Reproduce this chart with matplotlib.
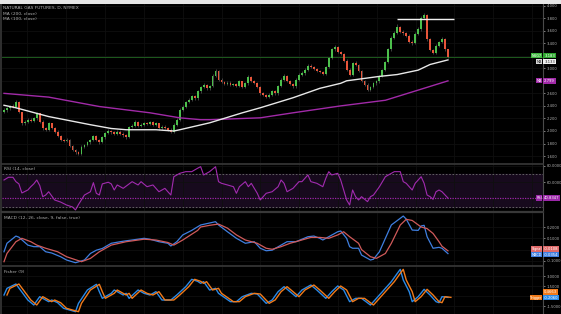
import numpy as np
import matplotlib
matplotlib.use('Agg')
import matplotlib.pyplot as plt
from matplotlib.lines import Line2D
from matplotlib.transforms import blended_transform_factory

W, H, DPI = 561, 314, 100

title_lines = ["NATURAL GAS FUTURES, D, NYMEX", "MA (200, close)", "MA (100, close)"]
rsi_title = "RSI (14, close)"
macd_title = "MACD (12, 26, close, 9, false, true)"
fisher_title = "Fisher (9)"

opens = [
2.30,2.33,2.36,2.40,2.38,2.46,2.30,2.12,2.15,2.18,
2.16,2.20,2.28,2.15,2.04,2.02,2.12,2.05,1.99,1.92,
1.86,1.84,1.86,1.76,1.70,1.66,1.64,1.75,1.78,1.82,
1.86,1.92,1.86,1.83,1.90,1.97,2.00,1.98,1.95,1.99,
1.96,1.93,1.91,2.06,2.08,2.15,2.08,2.10,2.13,2.11,
2.14,2.10,2.12,2.04,2.07,2.05,2.02,1.99,2.10,2.18,
2.34,2.39,2.46,2.50,2.55,2.52,2.63,2.70,2.73,2.68,
2.72,2.88,2.95,2.82,2.78,2.75,2.77,2.73,2.75,2.72,
2.79,2.70,2.76,2.86,2.80,2.77,2.70,2.60,2.57,2.54,
2.58,2.63,2.60,2.72,2.82,2.88,2.80,2.75,2.71,2.82,
2.90,2.92,2.98,3.04,3.02,2.99,2.96,2.94,2.91,3.02,
3.16,3.30,3.34,3.26,3.23,3.12,2.98,2.90,3.08,3.05,
2.96,2.80,2.74,2.66,2.70,2.76,2.79,2.88,2.97,3.10,
3.30,3.48,3.56,3.66,3.58,3.56,3.52,3.42,3.40,3.55,
3.62,3.80,3.85,3.46,3.29,3.25,3.36,3.42,3.47,3.30]
highs = [
2.36,2.38,2.42,2.43,2.49,2.48,2.31,2.18,2.20,2.21,
2.23,2.31,2.29,2.17,2.07,2.14,2.13,2.07,2.01,1.94,
1.88,1.89,1.87,1.78,1.72,1.68,1.77,1.80,1.84,1.88,
1.94,1.93,1.88,1.92,1.99,2.03,2.02,2.00,2.01,2.01,
1.98,1.95,2.08,2.11,2.18,2.16,2.12,2.15,2.15,2.16,
2.16,2.14,2.13,2.09,2.09,2.07,2.04,2.12,2.20,2.36,
2.42,2.48,2.53,2.58,2.57,2.65,2.72,2.76,2.75,2.74,
2.91,2.99,2.97,2.84,2.80,2.79,2.79,2.77,2.77,2.81,
2.80,2.78,2.89,2.88,2.82,2.78,2.71,2.62,2.59,2.60,
2.65,2.65,2.74,2.84,2.91,2.89,2.82,2.77,2.84,2.92,
2.95,3.00,3.07,3.06,3.04,3.01,2.98,2.96,3.04,3.18,
3.33,3.37,3.36,3.28,3.25,3.14,3.00,3.10,3.11,3.07,
2.98,2.82,2.76,2.72,2.78,2.81,2.90,2.99,3.12,3.32,
3.51,3.59,3.70,3.68,3.61,3.58,3.54,3.45,3.57,3.65,
3.83,3.88,3.86,3.48,3.31,3.38,3.44,3.50,3.49,3.31]
lows = [
2.28,2.31,2.34,2.36,2.36,2.28,2.10,2.10,2.13,2.14,
2.14,2.18,2.13,2.02,2.00,2.00,2.03,1.97,1.90,1.84,
1.82,1.82,1.74,1.68,1.64,1.61,1.62,1.73,1.76,1.80,
1.84,1.84,1.80,1.81,1.88,1.95,1.96,1.93,1.93,1.94,
1.91,1.88,1.89,2.04,2.06,2.06,2.06,2.08,2.09,2.09,
2.08,2.08,2.02,2.02,2.03,2.00,1.97,1.97,2.08,2.16,
2.32,2.37,2.44,2.48,2.50,2.50,2.61,2.68,2.66,2.66,
2.70,2.86,2.80,2.76,2.73,2.73,2.71,2.71,2.70,2.70,
2.68,2.68,2.74,2.78,2.75,2.68,2.58,2.55,2.52,2.52,
2.56,2.58,2.58,2.70,2.80,2.78,2.73,2.69,2.69,2.80,
2.88,2.90,2.96,3.00,2.97,2.94,2.92,2.89,2.89,3.00,
3.14,3.28,3.24,3.21,3.10,2.96,2.87,2.88,3.03,2.94,
2.78,2.72,2.63,2.64,2.68,2.74,2.77,2.86,2.95,3.08,
3.28,3.46,3.54,3.56,3.53,3.50,3.40,3.37,3.38,3.53,
3.60,3.78,3.44,3.27,3.22,3.23,3.34,3.40,3.28,3.16]
closes = [
2.33,2.36,2.40,2.38,2.46,2.30,2.12,2.15,2.18,2.16,
2.20,2.28,2.15,2.04,2.02,2.12,2.05,1.99,1.92,1.86,
1.84,1.86,1.76,1.70,1.66,1.64,1.75,1.78,1.82,1.86,
1.92,1.86,1.83,1.90,1.97,2.00,1.98,1.95,1.99,1.96,
1.93,1.91,2.06,2.08,2.15,2.08,2.10,2.13,2.11,2.14,
2.10,2.12,2.04,2.07,2.05,2.02,1.99,2.10,2.18,2.34,
2.39,2.46,2.50,2.55,2.52,2.63,2.70,2.73,2.68,2.72,
2.88,2.95,2.82,2.78,2.75,2.77,2.73,2.75,2.72,2.79,
2.70,2.76,2.86,2.80,2.77,2.70,2.60,2.57,2.54,2.58,
2.63,2.60,2.72,2.82,2.88,2.80,2.75,2.71,2.82,2.90,
2.92,2.98,3.04,3.02,2.99,2.96,2.94,2.91,3.02,3.16,
3.30,3.34,3.26,3.23,3.12,2.98,2.90,3.08,3.05,2.96,
2.80,2.74,2.66,2.70,2.76,2.79,2.88,2.97,3.10,3.30,
3.48,3.56,3.66,3.58,3.56,3.52,3.42,3.40,3.55,3.62,
3.80,3.85,3.46,3.29,3.25,3.36,3.42,3.47,3.30,3.18]

ma100_idx = [0,4,15,29,36,41,46,51,57,59,69,80,86,97,106,113,115,126,132,139,143,149]
ma100_val = [2.41,2.37,2.23,2.10,2.04,2.02,2.02,2.02,2.00,2.02,2.13,2.29,2.37,2.53,2.68,2.76,2.80,2.87,2.90,2.97,3.06,3.133]
ma200_idx = [0,15,32,49,59,66,69,86,97,113,128,149]
ma200_val = [2.60,2.54,2.39,2.29,2.21,2.18,2.18,2.21,2.29,2.40,2.49,2.799]

resist_level = 3.785
resist_span = [132, 151]

rsi_idx = [0,1.5,3,4,5,6,8,9,10,11,12,13,14,15,17,19,21,23,24,25,27,29,30,31,32,33,35,36,37,38,40,42,43,45,46,48,50,52,54,55,56,57,59,61,63,65,66,67,69,71,72,73,75,77,78,79,81,82,83,85,86,88,90,92,93,94,95,97,99,100,102,103,105,107,108,109,110,112,113,114,115,116,117,118,119,120,122,123,124,126,128,130,131,133,134,135,136,137,138,139,140,141,142,143,144,145,146,147,149]
rsi_val = [62.7,66,66,60.7,58,47,50.6,54.6,58,62.7,56,42.5,44.5,48.5,38.5,36,32.4,30,26.4,33,44.5,48.5,59.5,46.6,44.5,58,60,58,50.6,56.7,52.6,58,60.7,56.7,60.7,54.6,56.7,48.5,52.6,48.5,44.5,66.7,70.8,72.8,72.8,77,78.9,68.8,72.8,78.8,60.7,58.7,56.7,54.6,46.6,54.6,60.7,54.6,58.7,46.6,38.5,46.6,48.5,54.6,62.7,58.7,48.5,52.6,60.7,60.7,68.8,60.7,58.7,54.6,64.7,72.8,68.8,70.8,62.7,50.6,38.5,32.4,50.6,42.5,38.5,42.5,36.5,42.5,44.5,54.6,66.7,70.8,72.8,72.8,60.7,58.7,54.6,50.6,58.7,62.7,66.7,58.7,44.5,42.5,39.3,48.5,50.6,48.5,40.8347]

macd_idx = [0,1,4,5,8,10,12,14,16,19,21,24,27,29,31,33,36,39,41,43,47,49,52,55,56,58,60,63,66,71,72,75,78,81,84,86,88,90,93,95,98,102,104,106,107,109,112,113,115,116,117,119,120,123,124,126,128,130,134,135,137,139,140,141,142,144,146,147,149]
macd_val = [-0.019,0.056,0.12,0.11,0.04,0.026,0.026,-0.019,-0.03,-0.063,-0.092,-0.116,-0.092,-0.034,-0.005,0.01,0.056,0.07,0.078,0.085,0.10,0.092,0.07,0.056,0.032,0.07,0.13,0.17,0.218,0.247,0.218,0.158,0.10,0.056,0.07,0.012,-0.01,-0.005,0.04,0.07,0.07,0.114,0.12,0.10,0.085,0.114,0.158,0.165,0.10,0.026,0.012,0.012,-0.048,-0.092,-0.085,-0.019,0.10,0.218,0.297,0.27,0.173,0.17,0.209,0.215,0.114,0.012,0.02,0.012,-0.0354]
signal_idx = [0,1,4,6,9,11,14,18,21,26,29,32,36,41,47,51,55,57,60,65,66,69,72,75,78,81,85,88,90,93,96,99,103,106,109,112,114,116,119,120,123,125,128,130,133,135,137,140,142,144,146,147,149]
signal_val = [-0.107,-0.034,0.07,0.10,0.07,0.04,0.012,-0.019,-0.063,-0.107,-0.078,-0.019,0.04,0.07,0.092,0.085,0.063,0.04,0.085,0.17,0.20,0.215,0.226,0.19,0.13,0.085,0.056,0.012,0.003,0.026,0.056,0.078,0.108,0.108,0.10,0.13,0.158,0.114,0.056,0.0,-0.063,-0.077,-0.034,0.056,0.218,0.268,0.258,0.20,0.186,0.143,0.07,0.03,-0.0108]

fisher_idx = [0,1,4,5,8,10,12,14,15,16,18,20,22,24,25,28,31,32,33,36,37,40,41,42,45,47,49,51,53,56,58,61,63,65,66,67,69,71,72,76,78,80,83,85,88,90,92,94,96,98,100,103,105,108,110,112,114,116,118,120,123,125,128,130,132,133,134,136,137,139,141,143,145,146,147,149]
fisher_val = [0.15,1.15,1.8,1.2,-0.6,-1.35,-0.1,-0.6,-0.85,-0.6,-1.0,-1.85,-2.1,-2.35,-1.1,0.9,1.75,0.65,-0.35,0.4,0.9,0.15,0.4,-0.35,0.9,0.4,0.15,0.65,-0.6,-0.6,0.15,1.4,2.5,2.2,1.9,2.15,0.9,1.15,0.4,-0.85,-0.85,-0.1,0.4,0.3,-1.1,-0.6,0.65,1.4,0.65,-0.1,0.9,1.65,0.9,-0.35,0.65,1.5,0.9,-0.85,-0.35,-0.35,-1.35,-0.35,1.15,2.15,3.4,4.0,2.4,0.65,-0.85,-0.1,1.0,0.15,-0.85,-1.0,-0.1,-0.206]

month_idx = [7.7, 20.8, 33.9, 47.0, 60.1, 73.2, 85.9, 99.0, 112.0, 125.2, 138.3, 151.0, 164.1, 177.2]

main_ticks = [4.0, 3.8, 3.6, 3.4, 3.2, 3.0, 2.8, 2.6, 2.4, 2.2, 2.0, 1.8, 1.6]
main_hidden = [3.2, 2.8]
rsi_ticks = [80, 60, 40]
rsi_hidden = [40]
macd_ticks = [0.2, 0.1, 0.0, -0.1]
macd_hidden = [0.0]
fisher_ticks = [3.0, 1.5, 0.0, -1.5]
fisher_hidden = [0.0]

BG = '#000000'
UP = '#4cbf4c'
DN = '#e8553a'
GRID = '#0f0f0f'
TXT = '#b0b0b0'
AX = '#4a4a4a'
FS = 2.7

plt.rcParams['font.family'] = ['DejaVu Sans']
fig = plt.figure(figsize=(W / DPI, H / DPI), dpi=DPI, facecolor=BG)


def rect(x0, y0, x1, y1):
    return [x0 / W, 1 - y1 / H, (x1 - x0) / W, (y1 - y0) / H]


XL = (-0.67, 180.9)


def make_ax(r, ylim, ticks, hidden, fmt):
    ax = fig.add_axes(r, facecolor=BG)
    ax.set_xlim(*XL)
    ax.set_ylim(*ylim)
    for s in ['top', 'bottom', 'left']:
        ax.spines[s].set_visible(False)
    ax.spines['right'].set_color(AX)
    ax.spines['right'].set_linewidth(0.8)
    ax.yaxis.tick_right()
    ax.set_yticks(ticks)
    ax.set_yticklabels(['' if t in hidden else fmt.format(t) for t in ticks])
    ax.tick_params(axis='y', colors=TXT, labelsize=FS, length=1.5, width=0.5, pad=1.2)
    ax.tick_params(axis='x', length=0, labelbottom=False)
    ax.set_xticks(month_idx)
    ax.grid(True, color=GRID, linewidth=0.6)
    ax.set_axisbelow(True)
    return ax


ax = make_ax(rect(2, 4, 543, 163), (1.490, 4.024), main_ticks, main_hidden, "{:.3f}")
ax_rsi = make_ax(rect(2, 164, 543, 212), (23.94, 82.1), rsi_ticks, rsi_hidden, "{:.4f}")
ax_macd = make_ax(rect(2, 213, 543, 266), (-0.145, 0.324), macd_ticks, macd_hidden, "{:.4f}")
ax_f = make_ax(rect(2, 267, 543, 314), (-2.70, 4.35), fisher_ticks, fisher_hidden, "{:.4f}")

fig.patches.append(plt.Rectangle((0, 1 - 3.5 / H), 1, 3.5 / H, transform=fig.transFigure,
                                 facecolor='#e6e6e6', edgecolor='none'))
fig.patches.append(plt.Rectangle((0, 0), 1.5 / W, 1 - 3.5 / H, transform=fig.transFigure,
                                 facecolor='#2e2e2e', edgecolor='none'))
for yp, lw in [(163.6, 1.2), (212.4, 1.6), (266.3, 1.2)]:
    fig.add_artist(Line2D([1.5 / W, 543 / W], [1 - yp / H] * 2, transform=fig.transFigure,
                          color='#383838', linewidth=lw))

idx = np.arange(len(closes))
o = np.array(opens); c = np.array(closes); hi = np.array(highs); lo = np.array(lows)
cols = np.where(c >= o, UP, DN)
ax.vlines(idx, lo, hi, color='#5a5a5a', linewidth=0.5, zorder=2)
ax.bar(idx, np.abs(c - o), bottom=np.minimum(o, c), width=0.62, color=cols, linewidth=0, zorder=3)

ax.axhline(closes[-1], color='#1d5a1d', linewidth=0.7, zorder=1)
ax.plot(ma200_idx, ma200_val, color='#a12aa8', linewidth=1.0, zorder=4)
ax.plot(ma100_idx, ma100_val, color='#e8e8e8', linewidth=1.0, zorder=4)
ax.hlines(resist_level, resist_span[0], resist_span[1], color='#f0f0f0', linewidth=1.0, zorder=5)

fig.text(3 / W, 1 - 8 / H, title_lines[0], color=TXT, fontsize=3.2, va='center')
fig.text(3 / W, 1 - 13.8 / H, title_lines[1], color=TXT, fontsize=3.2, va='center')
fig.text(3 / W, 1 - 19.5 / H, title_lines[2], color=TXT, fontsize=3.2, va='center')
fig.text(4 / W, 1 - 169 / H, rsi_title, color=TXT, fontsize=3.2, va='center')
fig.text(4 / W, 1 - 218 / H, macd_title, color=TXT, fontsize=3.2, va='center')
fig.text(4 / W, 1 - 272 / H, fisher_title, color=TXT, fontsize=3.2, va='center')

ax_rsi.axhspan(30, 70, color='#170a1d', zorder=0)
for lvl in (70, 30):
    ax_rsi.axhline(lvl, color='#6e6e6e', linewidth=0.6, linestyle=(0, (2, 2)), zorder=1)
ax_rsi.axhline(rsi_val[-1], color='#9b27a8', linewidth=0.9, linestyle=(0, (1, 1)), zorder=1)
ax_rsi.plot(rsi_idx, rsi_val, color='#a22bb0', linewidth=0.8, zorder=3)

ax_macd.plot(macd_idx, macd_val, color='#3f7fe0', linewidth=0.9, zorder=3)
ax_macd.plot(signal_idx, signal_val, color='#d05a5a', linewidth=0.9, zorder=3)

ax_f.plot(fisher_idx, fisher_val, color='#2a8ae8', linewidth=1.0, zorder=3)
ax_f.plot(np.array(fisher_idx) + 1, fisher_val, color='#f07a1a', linewidth=1.0, zorder=4)


def label(a, val, text, fc, tc, tag=None, tagfc=None, tagtc='white', at=None):
    tr = blended_transform_factory(fig.transFigure, a.transData)
    y = val if at is None else at
    a.text(544.2 / W, y, text, transform=tr, fontsize=FS, color=tc, va='center', ha='left',
           bbox=dict(boxstyle='square,pad=0.2', fc=fc, ec='none'), clip_on=False, zorder=10)
    if tag:
        a.text(541.8 / W, y, tag, transform=tr, fontsize=2.4, color=tagtc, va='center', ha='right',
               bbox=dict(boxstyle='square,pad=0.2', fc=tagfc, ec='none'), clip_on=False, zorder=10)


label(ax, closes[-1], f"{3.183:.3f}", '#2ea82e', 'white', 'NGG7', '#3fb83f', at=3.2)
label(ax, ma100_val[-1], f"{ma100_val[-1]:.3f}", '#f0f0f0', '#222222', 'MA', '#d8d8d8', '#222222', at=3.105)
label(ax, ma200_val[-1], f"{ma200_val[-1]:.3f}", '#a12aa8', 'white', 'MA', '#a12aa8', at=2.80)
label(ax_rsi, rsi_val[-1], f"{rsi_val[-1]:.4f}", '#9b27a8', 'white', 'RSI', '#9b27a8')
label(ax_macd, signal_val[-1], f"{signal_val[-1]:.4f}", '#e06a6a', 'white', 'Signal', '#e06a6a', at=0.004)
label(ax_macd, macd_val[-1], f"{macd_val[-1]:.4f}", '#3f7fe0', 'white', 'MACD', '#3f7fe0', at=-0.044)
label(ax_f, 0.6, f"{0.4663:.4f}", '#f07a1a', 'white')
label(ax_f, fisher_val[-1], f"{fisher_val[-1]:.4f}", '#2a8ae8', 'white', 'Trigger', '#f07a1a', at=-0.25)

fig.savefig('out.png', dpi=DPI, facecolor=BG)
